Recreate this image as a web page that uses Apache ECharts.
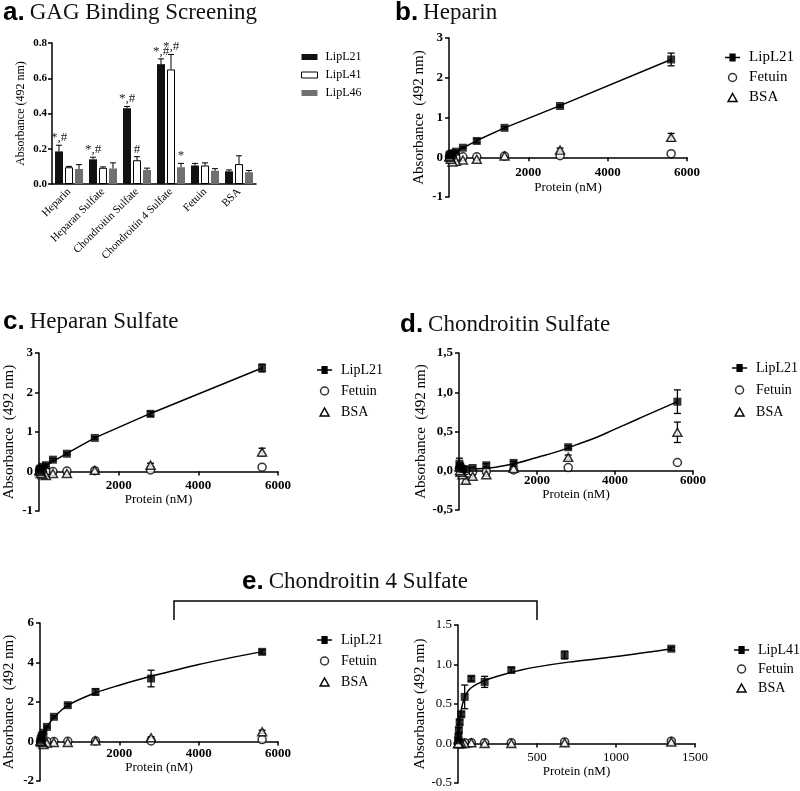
<!DOCTYPE html>
<html><head><meta charset="utf-8">
<script src="https://cdn.jsdelivr.net/npm/echarts@6/dist/echarts.min.js"></script>
<style>html,body{margin:0;padding:0;background:#fff}#c{width:800px;height:791px}</style>
</head><body><div id="c"></div>
<script>
// ===== Panel a: GAG binding screening (bars) =====
const gagCategories = ['Heparin','Heparan Sulfate','Chondroitin Sulfate','Chondroitin 4 Sulfate','Fetuin','BSA'];
const aL21 = [0.185,0.14,0.43,0.68,0.105,0.072];
const aL21Err = [0.035,0.012,0.01,0.03,0.012,0.008];
const aL41 = [0.095,0.092,0.135,0.65,0.105,0.113];
const aL41Err = [0.005,0.005,0.02,0.085,0.015,0.047];
const aL46 = [0.085,0.088,0.08,0.095,0.075,0.067];
const aL46Err = [0.025,0.032,0.01,0.022,0.012,0.01];
const aL21Marks = ['*,#','*,#','*,#','*,#','',''];
const aL41Marks = ['','','#','*,#','',''];
const aL46Marks = ['','','','*','',''];

// ===== Concentrations (nM) =====
const conc = [5600,2800,1400,700,350,175,87.5,43.75,21.9,10.9];
const concL41 = [1350,675,337.5,168.75,84.4,42.2,21.1,10.5,5.3,2.6,1.3];

// ===== Panel b: Heparin =====
const bL21 = [2.46,1.29,0.74,0.41,0.24,0.14,0.10,0.08,0.06,0.04];
const bL21Err = [0.16,0.03,0.03,0.05,0.02,0.02,0.02,0.02,0.02,0.02];
const bFet = [0.09,0.04,0.03,0.01,0.01,0.0,0.0,0.01,0.0,0.02];
const bBSA = [0.50,0.18,0.03,-0.05,-0.07,-0.10,-0.12,-0.05,0.0,0.02];
const bBSAErr = [0.10,0.05,0.02,0.02,0.02,0.03,0.05,0.03,0.02,0.02];
const bFitX = [0,700,1400,2800,5600];
const bFitY = [0.05,0.42,0.74,1.30,2.46];

// ===== Panel c: Heparan Sulfate =====
const cL21 = [2.62,1.46,0.85,0.45,0.30,0.16,0.12,0.08,0.06,0.03];
const cL21Err = [0.10,0.06,0.03,0.03,0.03,0.03,0.03,0.03,0.03,0.03];
const cFet = [0.11,0.04,0.02,0.01,0.0,0.0,0.0,0.01,0.0,0.02];
const cBSA = [0.49,0.16,0.03,-0.05,-0.05,-0.10,-0.08,-0.05,0.0,0.03];
const cBSAErr = [0.10,0.05,0.02,0.02,0.02,0.03,0.04,0.03,0.02,0.02];
const cFitX = [0,700,1400,2800,5600];
const cFitY = [0.05,0.46,0.85,1.47,2.62];

// ===== Panel d: Chondroitin Sulfate =====
const dL21 = [0.88,0.30,0.10,0.07,0.035,0.02,0.02,0.04,0.06,0.09];
const dL21Err = [0.15,0.02,0.02,0.02,0.01,0.01,0.01,0.02,0.03,0.07];
const dFet = [0.105,0.04,0.01,-0.01,-0.01,0.0,0.0,0.01,0.02,0.03];
const dBSA = [0.49,0.17,0.03,-0.05,-0.07,-0.12,-0.05,-0.02,0.0,0.05];
const dBSAErr = [0.13,0.03,0.02,0.02,0.02,0.04,0.03,0.02,0.02,0.03];
const dFitX = [0,500,1000,1500,2000,2500,3000,3500,4000,4500,5000,5600];
const dFitY = [0.02,0.025,0.05,0.10,0.17,0.24,0.33,0.42,0.53,0.64,0.75,0.88];

// ===== Panel e (left): Chondroitin 4 Sulfate, LipL21 =====
const eL21 = [4.54,3.19,2.51,1.84,1.25,0.74,0.44,0.30,0.15,0.05];
const eL21Err = [0.10,0.42,0.15,0.08,0.06,0.05,0.05,0.05,0.05,0.05];
const eFet = [0.10,0.03,0.02,0.01,0.0,0.0,0.0,0.0,0.0,0.0];
const eBSA = [0.49,0.19,0.03,-0.05,-0.05,-0.08,-0.15,-0.05,0.0,0.02];
const eBSAErr = [0.08,0.05,0.03,0.03,0.03,0.03,0.05,0.03,0.03,0.03];
const eFitX = [0,20,50,100,175,350,700,1400,2000,2800,4000,5600];
const eFitY = [0,0.18,0.33,0.50,0.74,1.22,1.83,2.47,2.85,3.30,3.90,4.55];

// ===== Panel e (right): Chondroitin 4 Sulfate, LipL41 =====
const fL41 = [1.20,1.12,0.93,0.78,0.82,0.59,0.37,0.27,0.17,0.08,0.04];
const fL41Err = [0.02,0.05,0.03,0.07,0.03,0.15,0.03,0.03,0.03,0.03,0.03];
const fFet = [0.03,0.02,0.01,0.01,0.01,0.01,0.0,0.0,0.0,0.0,0.0];
const fBSA = [0.02,0.01,0.0,0.0,0.01,0.0,0.0,0.0,0.0,0.0,0.0];
const fBSAErr = [0.01,0.01,0.01,0.01,0.01,0.01,0.01,0.01,0.01,0.01,0.01];
const fFitX = [0,3,6,12,25,45,70,100,150,200,300,400,500,700,1000,1350];
const fFitY = [0,0.10,0.20,0.32,0.47,0.60,0.68,0.73,0.78,0.82,0.88,0.93,0.97,1.03,1.10,1.20];

// ===================================================
const AX = '#000';
const SERIF = 'Liberation Serif';
const SANS = 'Liberation Sans';
const zip = (xs, ys) => xs.map((x, i) => [x, ys[i]]);
const zip3 = (xs, ys, es) => xs.map((x, i) => [x, ys[i], es[i]]);
const axLine = {color: AX, width: 1.5};

const grids = [], xAxes = [], yAxes = [], series = [], legends = [];

// ---- Panel a ----
grids.push({left: 52, top: 43, width: 204, height: 141});
xAxes.push({gridIndex: 0, type: 'category', data: gagCategories,
  axisLine: {lineStyle: axLine}, axisTick: {alignWithLabel: true, length: 4, lineStyle: axLine},
  axisLabel: {rotate: 45, interval: 0, fontFamily: SERIF, fontSize: 11, color: '#000', margin: 6}});
yAxes.push({gridIndex: 0, type: 'value', min: 0, max: 0.8, interval: 0.2,
  axisLine: {show: true, lineStyle: axLine}, axisTick: {show: true, length: 4, lineStyle: axLine},
  splitLine: {show: false},
  axisLabel: {formatter: v => v.toFixed(1), fontFamily: SERIF, fontWeight: 'bold', fontSize: 11, color: '#000', margin: 5},
  name: 'Absorbance (492 nm)', nameLocation: 'middle', nameGap: 25,
  nameTextStyle: {fontFamily: SERIF, fontSize: 12, color: '#000'}});

const barStyles = [
  {color: '#111'},
  {color: '#fff', borderColor: '#000', borderWidth: 1},
  {color: '#707070'}
];
[['LipL21', aL21], ['LipL41', aL41], ['LipL46', aL46]].forEach((s, k) => {
  series.push({type: 'bar', name: s[0], xAxisIndex: 0, yAxisIndex: 0, data: s[1],
    barWidth: 8, barGap: '25%', itemStyle: barStyles[k], z: 2});
});
function barErr(name, vals, errs, marks, offset) {
  return {type: 'custom', name, xAxisIndex: 0, yAxisIndex: 0, z: 5, silent: true,
    data: vals.map((v, i) => [i, v, errs[i]]),
    renderItem: (params, api) => {
      const i = api.value(0), v = api.value(1), e = api.value(2);
      const base = api.coord([i, v]), top = api.coord([i, v + e]);
      const x = base[0] + offset;
      const ch = [
        {type: 'line', shape: {x1: x, y1: base[1], x2: x, y2: top[1]}, style: {stroke: '#000', lineWidth: 1}},
        {type: 'line', shape: {x1: x - 3, y1: top[1], x2: x + 3, y2: top[1]}, style: {stroke: '#000', lineWidth: 1}}
      ];
      const m = marks[params.dataIndex];
      if (m) ch.push({type: 'text', style: {text: m, x: x, y: top[1] - 1, align: 'center', verticalAlign: 'bottom',
        fontFamily: SERIF, fontSize: 13, fill: '#222'}});
      return {type: 'group', children: ch};
    }};
}
series.push(barErr('LipL21', aL21, aL21Err, aL21Marks, -10));
series.push(barErr('LipL41', aL41, aL41Err, aL41Marks, 0));
series.push(barErr('LipL46', aL46, aL46Err, aL46Marks, 10));
legends.push({left: 296, top: 46, orient: 'vertical', itemGap: 6, itemWidth: 16, itemHeight: 6, selectedMode: false,
  textStyle: {fontFamily: SERIF, fontSize: 12, color: '#000', padding: [0, 0, 0, 3]},
  data: [
    {name: 'LipL21', icon: 'rect', itemStyle: {color: '#111', borderWidth: 0}},
    {name: 'LipL41', icon: 'rect', itemStyle: {color: '#fff', borderColor: '#000', borderWidth: 1}},
    {name: 'LipL46', icon: 'rect', itemStyle: {color: '#707070', borderWidth: 0}}
  ]});

// ---- XY panels ----
const LINE_SQ = 'path://M0,4.2H5V0.5H12V4.2H17V5.8H12V9.5H5V5.8H0Z';
const TRI = 'path://M5,0L10,9L0,9Z';
function errSeries(gi, name, xs, ys, es) {
  return {type: 'custom', name, xAxisIndex: gi, yAxisIndex: gi, z: 1, silent: true,
    data: zip3(xs, ys, es),
    renderItem: (params, api) => {
      const x = api.value(0), y = api.value(1), e = api.value(2);
      const p1 = api.coord([x, y - e]), p2 = api.coord([x, y + e]);
      const st = {stroke: '#000', lineWidth: 1.3};
      return {type: 'group', children: [
        {type: 'line', shape: {x1: p1[0], y1: p1[1], x2: p2[0], y2: p2[1]}, style: st},
        {type: 'line', shape: {x1: p1[0] - 3.5, y1: p1[1], x2: p1[0] + 3.5, y2: p1[1]}, style: st},
        {type: 'line', shape: {x1: p2[0] - 3.5, y1: p2[1], x2: p2[0] + 3.5, y2: p2[1]}, style: st}
      ]};
    }};
}
function xyPanel(p) {
  const gi = grids.length;
  grids.push(p.grid);
  // place the x axis (line, ticks, labels) on the y = 0 line of this grid
  const zeroOffset = -p.grid.height * (0 - p.yMin) / (p.yMax - p.yMin);
  xAxes.push({gridIndex: gi, type: 'value', min: 0, max: p.xMax, interval: p.xInt, offset: zeroOffset,
    axisLine: {onZero: false, lineStyle: axLine}, axisTick: {length: 4, lineStyle: axLine},
    splitLine: {show: false},
    axisLabel: {showMinLabel: false, formatter: v => String(v), fontFamily: SERIF, fontWeight: p.bold ? 'bold' : 'normal', fontSize: 13, color: '#000', margin: p.xLabMargin},
    name: 'Protein (nM)', nameLocation: 'middle', nameGap: p.xNameGap,
    nameTextStyle: {fontFamily: SERIF, fontSize: 13, color: '#000'}});
  yAxes.push({gridIndex: gi, type: 'value', min: p.yMin, max: p.yMax, interval: p.yInt,
    axisLine: {show: true, onZero: false, lineStyle: axLine}, axisTick: {show: true, length: 4, lineStyle: axLine},
    splitLine: {show: false},
    axisLabel: {formatter: p.yFmt, fontFamily: SERIF, fontWeight: p.bold ? 'bold' : 'normal', fontSize: 13, color: '#000', margin: 6},
    name: p.yName, nameLocation: 'middle', nameGap: p.yNameGap,
    nameTextStyle: {fontFamily: SERIF, fontSize: 15, color: '#000'}});
  series.push({type: 'line', name: p.main, xAxisIndex: gi, yAxisIndex: gi, data: zip(p.fitX, p.fitY),
    smooth: p.smooth, showSymbol: false, symbol: 'rect', lineStyle: {color: '#000', width: 1.5},
    itemStyle: {color: '#000'}, silent: true, z: 2});
  series.push(errSeries(gi, p.main, p.x, p.mainY, p.mainErr));
  series.push(errSeries(gi, 'BSA', p.x, p.bsa, p.bsaErr));
  series.push({type: 'scatter', name: p.main, xAxisIndex: gi, yAxisIndex: gi, data: zip(p.x, p.mainY),
    symbol: 'rect', symbolSize: 8, itemStyle: {color: '#000'}, z: 4, silent: true});
  series.push({type: 'scatter', name: 'Fetuin', xAxisIndex: gi, yAxisIndex: gi, data: zip(p.x, p.fet),
    symbol: 'circle', symbolSize: 8, itemStyle: {color: '#fff', borderColor: '#000', borderWidth: 1.5}, z: 3, silent: true});
  series.push({type: 'scatter', name: 'BSA', xAxisIndex: gi, yAxisIndex: gi, data: zip(p.x, p.bsa),
    symbol: 'triangle', symbolSize: [9, 8], itemStyle: {color: '#fff', borderColor: '#000', borderWidth: 1.5}, z: 3, silent: true});
  legends.push({left: p.lg[0], top: p.lg[1], orient: 'vertical', itemGap: p.lg[2], itemWidth: 17, itemHeight: 8,
    symbolKeepAspect: true, selectedMode: false,
    textStyle: {fontFamily: SERIF, fontSize: p.lgFont, color: '#000', padding: [0, 0, 0, 3]},
    data: [
      {name: p.main, icon: LINE_SQ, itemStyle: {color: '#000', borderWidth: 0}},
      {name: 'Fetuin', icon: 'circle', itemStyle: {color: '#fff', borderColor: '#000', borderWidth: 1.5}},
      {name: 'BSA', icon: TRI, itemStyle: {color: '#fff', borderColor: '#000', borderWidth: 1.5}}
    ]});
}
const intFmt = v => String(v);
xyPanel({grid: {left: 449, top: 38, width: 238, height: 159}, xMax: 6000, xInt: 2000, yMin: -1, yMax: 3, yInt: 1,
  yFmt: intFmt, bold: true, xLabMargin: 9, xNameGap: 24, yName: 'Absorbance  (492 nm)', yNameGap: 22,
  main: 'LipL21', x: conc, mainY: bL21, mainErr: bL21Err, fet: bFet, bsa: bBSA, bsaErr: bBSAErr,
  fitX: bFitX, fitY: bFitY, smooth: false, lg: [720, 45, 5], lgFont: 15});
xyPanel({grid: {left: 39, top: 353, width: 239, height: 158}, xMax: 6000, xInt: 2000, yMin: -1, yMax: 3, yInt: 1,
  yFmt: intFmt, bold: true, xLabMargin: 8, xNameGap: 21, yName: 'Absorbance  (492 nm)', yNameGap: 22,
  main: 'LipL21', x: conc, mainY: cL21, mainErr: cL21Err, fet: cFet, bsa: cBSA, bsaErr: cBSAErr,
  fitX: cFitX, fitY: cFitY, smooth: false, lg: [312, 358, 7], lgFont: 14});
xyPanel({grid: {left: 459, top: 353, width: 234, height: 157}, xMax: 6000, xInt: 2000, yMin: -0.5, yMax: 1.5, yInt: 0.5,
  yFmt: v => v.toFixed(1).replace('.', ','), bold: true, xLabMargin: 3, xNameGap: 14, yName: 'Absorbance  (492 nm)', yNameGap: 30,
  main: 'LipL21', x: conc, mainY: dL21, mainErr: dL21Err, fet: dFet, bsa: dBSA, bsaErr: dBSAErr,
  fitX: dFitX, fitY: dFitY, smooth: 0.5, lg: [727, 356, 8], lgFont: 14});
xyPanel({grid: {left: 40, top: 623, width: 238, height: 158}, xMax: 6000, xInt: 2000, yMin: -2, yMax: 6, yInt: 2,
  yFmt: intFmt, bold: true, xLabMargin: 6, xNameGap: 19, yName: 'Absorbance  (492 nm)', yNameGap: 23,
  main: 'LipL21', x: conc, mainY: eL21, mainErr: eL21Err, fet: eFet, bsa: eBSA, bsaErr: eBSAErr,
  fitX: eFitX, fitY: eFitY, smooth: 0.3, lg: [312, 628, 7], lgFont: 14});
xyPanel({grid: {left: 458, top: 625, width: 237, height: 158}, xMax: 1500, xInt: 500, yMin: -0.5, yMax: 1.5, yInt: 0.5,
  yFmt: v => v.toFixed(1), bold: false, xLabMargin: 8, xNameGap: 20, yName: 'Absorbance (492 nm)', yNameGap: 29,
  main: 'LipL41', x: concL41, mainY: fL41, mainErr: fL41Err, fet: fFet, bsa: fBSA, bsaErr: fBSAErr,
  fitX: fFitX, fitY: fFitY, smooth: 0.3, lg: [729, 638, 5], lgFont: 14});

// ---- titles ----
const richT = {
  l: {fontFamily: SANS, fontWeight: 'bold', fontSize: 26, color: '#000'},
  t: {fontFamily: SERIF, fontWeight: 'normal', fontSize: 23, color: '#111'}
};
const mkTitle = (left, top, letter, text) => ({left, top, padding: 0,
  text: '{l|' + letter + '} {t|' + text + '}', textStyle: {fontWeight: 'normal', rich: richT}});
const titles = [
  mkTitle(3, 0, 'a.', 'GAG Binding Screening'),
  mkTitle(395, 0, 'b.', 'Heparin'),
  mkTitle(3, 309, 'c.', 'Heparan Sulfate'),
  mkTitle(400, 312, 'd.', 'Chondroitin Sulfate'),
  mkTitle(242, 569, 'e.', 'Chondroitin 4 Sulfate')
];

const chart = echarts.init(document.getElementById('c'));
chart.setOption({
  animation: false,
  backgroundColor: '#fff',
  title: titles,
  grid: grids, xAxis: xAxes, yAxis: yAxes, legend: legends, series: series,
  graphic: [{type: 'polyline', shape: {points: [[174, 620], [174, 601], [537, 601], [537, 620]]},
    style: {stroke: '#000', lineWidth: 1.5, fill: null}}]
});
</script></body></html>
